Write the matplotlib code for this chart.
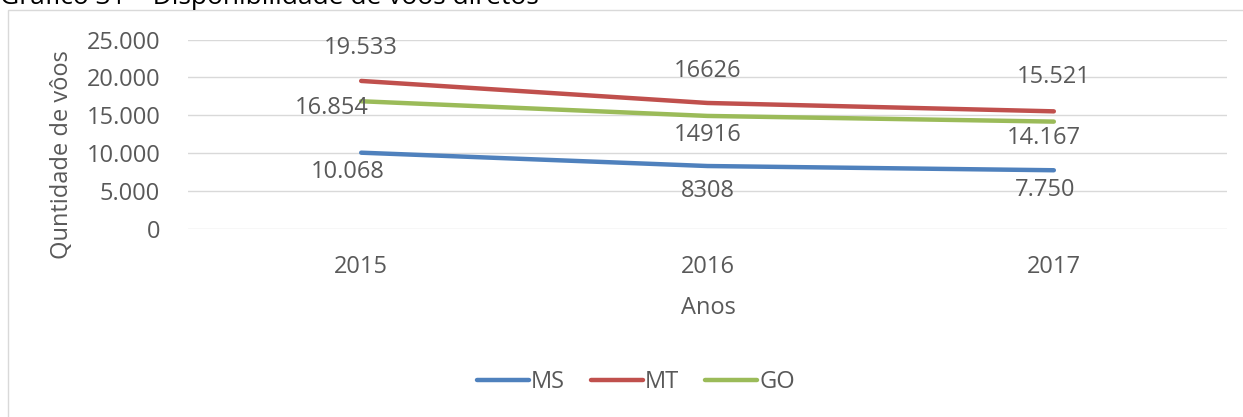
import matplotlib.pyplot as plt
from matplotlib.patches import Rectangle

# Data
anos = ['2015', '2016', '2017']
ms = [10068, 8308, 7750]
mt = [19533, 16626, 15521]
go = [16854, 14916, 14167]
ms_labels = ['10.068', '8308', '7.750']
mt_labels = ['19.533', '16626', '15.521']
go_labels = ['16.854', '14916', '14.167']

plt.rcParams['font.family'] = ['Open Sans', 'DejaVu Sans']
gray = '#595959'
fs = 17

fig = plt.figure(figsize=(12.43, 4.17), dpi=100)
ax = fig.add_axes([188 / 1243, 1 - 229 / 417, (1227 - 188) / 1243, (229 - 39.5) / 417])

# chart frame
fig.patches.append(Rectangle((8 / 1243, -0.1), 1.2, 1 - 10 / 417 + 0.1,
                             transform=fig.transFigure, fill=False,
                             edgecolor='#D9D9D9', linewidth=1))

fig.text(0, 1 - 4 / 417, 'Gráfico 31 – Disponibilidade de vôos diretos',
         fontsize=19, color='black', ha='left', va='baseline')

x = range(len(anos))
series = [
    ('MS', ms, ms_labels, '#4F81BD', [(-10, -14), (0, -18), (-6, -14.5)]),
    ('MT', mt, mt_labels, '#C0504D', [(0, 24), (0, 23), (0, 25)]),
    ('GO', go, go_labels, '#9BBB59', [(-21, -5), (0, -14), (-7, -11.5)]),
]
for name, vals, labs, col, offs in series:
    ax.plot(x, vals, color=col, linewidth=3.2, solid_capstyle='round', label=name)
    for i, (v, t) in enumerate(zip(vals, labs)):
        ax.annotate(t, (i, v), xytext=offs[i], textcoords='offset points',
                    ha='center', va='center', fontsize=fs, color=gray)

ax.set_xlim(-0.5, 2.5)
ax.set_ylim(0, 25000)
ax.set_yticks(range(0, 25001, 5000))
ax.set_yticklabels(['0', '5.000', '10.000', '15.000', '20.000', '25.000'])
ax.set_xticks(list(x))
ax.set_xticklabels(anos)
ax.tick_params(axis='both', length=0, labelsize=fs, labelcolor=gray)
ax.tick_params(axis='y', pad=20)
ax.tick_params(axis='x', pad=19)
ax.grid(axis='y', color='#D9D9D9', linewidth=1)
ax.set_axisbelow(True)
for s in ax.spines.values():
    s.set_visible(False)

fig.text(62 / 1243, 1 - 155 / 417, 'Quntidade de vôos', rotation=90,
         ha='center', va='center', fontsize=fs, color=gray)
fig.text(708 / 1243, 1 - 308 / 417, 'Anos', ha='center', va='center',
         fontsize=fs, color=gray)

fig.legend(loc='center', bbox_to_anchor=(636 / 1243, 1 - 382 / 417), ncol=3,
           frameon=False, fontsize=fs, labelcolor=gray, handlelength=2.2,
           handletextpad=0.1, columnspacing=1.1)

fig.savefig('out.png', dpi=100)
